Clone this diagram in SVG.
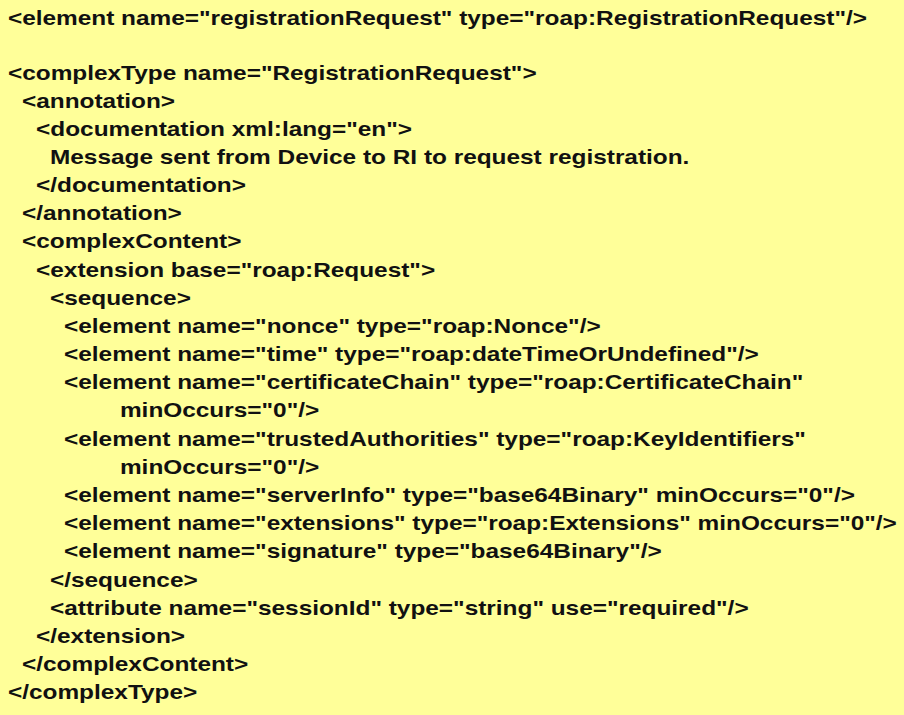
<svg xmlns="http://www.w3.org/2000/svg" width="904" height="715" viewBox="0 0 904 715">
<style>text{font-family:"Liberation Sans",Arial,sans-serif;font-weight:bold;font-size:20.5px;fill:#111}</style>
<rect width="904" height="715" fill="#ffff99"/>
<g id="code" transform="scale(1.19,1)">
<text x="6.7" y="25">&lt;element name="registrationRequest" type="roap:RegistrationRequest"/&gt;</text>
<text x="6.7" y="80">&lt;complexType name="RegistrationRequest"&gt;</text>
<text x="18.5" y="108">&lt;annotation&gt;</text>
<text x="30.3" y="136">&lt;documentation xml:lang="en"&gt;</text>
<text x="42" y="164">Message sent from Device to RI to request registration.</text>
<text x="30.3" y="192">&lt;/documentation&gt;</text>
<text x="18.5" y="220">&lt;/annotation&gt;</text>
<text x="18.5" y="248">&lt;complexContent&gt;</text>
<text x="30.3" y="277">&lt;extension base="roap:Request"&gt;</text>
<text x="42" y="305">&lt;sequence&gt;</text>
<text x="53.8" y="333">&lt;element name="nonce" type="roap:Nonce"/&gt;</text>
<text x="53.8" y="361">&lt;element name="time" type="roap:dateTimeOrUndefined"/&gt;</text>
<text x="53.8" y="389">&lt;element name="certificateChain" type="roap:CertificateChain"</text>
<text x="100.8" y="417">minOccurs="0"/&gt;</text>
<text x="53.8" y="446">&lt;element name="trustedAuthorities" type="roap:KeyIdentifiers"</text>
<text x="100.8" y="474">minOccurs="0"/&gt;</text>
<text x="53.8" y="502">&lt;element name="serverInfo" type="base64Binary" minOccurs="0"/&gt;</text>
<text x="53.8" y="530">&lt;element name="extensions" type="roap:Extensions" minOccurs="0"/&gt;</text>
<text x="53.8" y="558">&lt;element name="signature" type="base64Binary"/&gt;</text>
<text x="42" y="587">&lt;/sequence&gt;</text>
<text x="42" y="615">&lt;attribute name="sessionId" type="string" use="required"/&gt;</text>
<text x="30.3" y="643">&lt;/extension&gt;</text>
<text x="18.5" y="671">&lt;/complexContent&gt;</text>
<text x="6.7" y="699">&lt;/complexType&gt;</text>
</g>
</svg>
